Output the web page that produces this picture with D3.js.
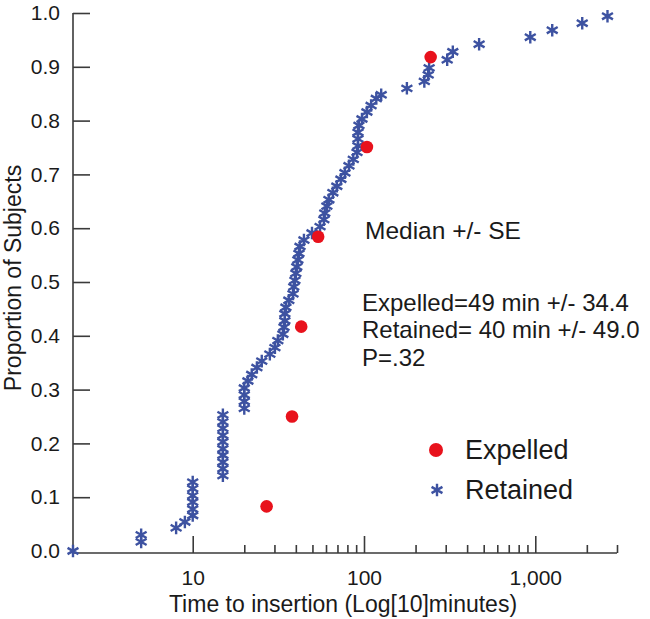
<!DOCTYPE html>
<html><head><meta charset="utf-8">
<script src="https://cdn.jsdelivr.net/npm/d3@7"></script>
<style>
html,body{margin:0;padding:0;background:#fff;}
text{font-family:"Liberation Sans",Arial,sans-serif;fill:#1a1a1a;}
</style></head>
<body>
<svg id="chart" width="650" height="619"></svg>
<script>
// ---- data ----
const retainedTime = [2, 5, 5, 8, 9,
  10, 10, 10, 10, 10, 10,
  15, 15, 15, 15, 15, 15, 15, 15, 15, 15,
  20, 20, 20, 20,
  21, 22.1, 23.7, 25.3, 28.2, 30.2, 31.4, 33.6, 34.1, 34.5, 34.5, 35, 36.4, 38.5, 38.9, 39.5, 40, 40.5, 41.1, 41.7, 42.3, 44.6, 49.7,
  55.4, 58.3, 59, 60.7, 62.4, 65.8, 69.4, 73.3, 77.4, 81.7, 86.6, 91, 92.2, 92.2, 92.2, 93.4, 97.3, 104, 110, 118, 126,
  178, 225, 237, 240, 306, 330, 470, 935, 1256, 1880, 2640];
const retainedProp = [0.000, 0.017, 0.030, 0.043, 0.054,
  0.066, 0.078, 0.091, 0.103, 0.116, 0.128,
  0.140, 0.153, 0.165, 0.178, 0.190, 0.203, 0.215, 0.228, 0.240, 0.253,
  0.265, 0.278, 0.290, 0.303,
  0.316, 0.328, 0.341, 0.353, 0.366, 0.378, 0.391, 0.403, 0.416, 0.428, 0.441, 0.453, 0.466, 0.478, 0.491, 0.503, 0.516, 0.528, 0.541, 0.553, 0.566, 0.578, 0.591,
  0.603, 0.616, 0.628, 0.641, 0.653, 0.666, 0.678, 0.691, 0.703, 0.716, 0.728, 0.741, 0.753, 0.766, 0.778, 0.791, 0.803, 0.816, 0.828, 0.841, 0.848,
  0.860, 0.873, 0.885, 0.898, 0.913, 0.928, 0.942, 0.955, 0.968, 0.981, 0.994];
const expelledTime = [27, 38, 43, 54, 104, 245];
const expelledProp = [0.083, 0.250, 0.417, 0.584, 0.751, 0.918];

const yTicks = [0, 0.1, 0.2, 0.3, 0.4, 0.5, 0.6, 0.7, 0.8, 0.9, 1.0];
const xMajorTicks = [10, 100, 1000];
const xMinorTicks = [20, 30, 40, 50, 60, 70, 80, 90, 200, 300, 400, 500, 600, 700, 800, 900, 2000, 3000];

const annotationLines = ["Expelled=49 min +/- 34.4", "Retained= 40 min +/- 49.0", "P=.32"];
const legendLabels = ["Expelled", "Retained"];

// ---- drawing ----
const svg = d3.select("#chart");
const axisColor = "#3a3a3a";
const blue = "#3d52a1";
const red = "#e8121c";
const FONT = "Liberation Sans, Arial, sans-serif";

const x = d3.scaleLog().domain([2, 3000]).range([73, 617]);
const y = d3.scaleLinear().domain([0, 1]).range([551, 13]);
const xAxisY = 553;

function asterisk(r) {
  let p = "";
  for (let i = 0; i < 3; i++) {
    const a = Math.PI / 2 + i * Math.PI / 3;
    const dx = r * Math.cos(a), dy = r * Math.sin(a);
    p += `M${-dx},${-dy}L${dx},${dy}`;
  }
  return p;
}

// x axis
const gx = svg.append("g").attr("transform", `translate(0,${xAxisY})`);
gx.call(d3.axisBottom(x).tickValues(xMajorTicks).tickSize(-17).tickPadding(17)
  .tickFormat(d3.format(",")));
const gxm = svg.append("g").attr("transform", `translate(0,${xAxisY})`);
gxm.call(d3.axisBottom(x).tickValues(xMinorTicks).tickSize(-8).tickFormat(""));
[gx, gxm].forEach(g => {
  g.select(".domain").remove();
  g.selectAll(".tick line").attr("stroke", axisColor).attr("stroke-width", 1.6);
});
gx.selectAll(".tick text").attr("font-size", 21).attr("font-family", FONT).attr("fill", "#1a1a1a");
svg.append("line").attr("x1", x(2)).attr("x2", x(3000)).attr("y1", xAxisY).attr("y2", xAxisY)
  .attr("stroke", axisColor).attr("stroke-width", 1.6);

// y axis
const gy = svg.append("g").attr("transform", `translate(${x(2)},0)`);
gy.call(d3.axisLeft(y).tickValues(yTicks).tickSize(-17).tickPadding(13).tickFormat(d3.format(".1f")));
gy.select(".domain").remove();
gy.selectAll(".tick line").attr("stroke", axisColor).attr("stroke-width", 1.6)
  .attr("display", d => d === 0 ? "none" : null);
gy.selectAll(".tick text").attr("font-size", 21).attr("font-family", FONT).attr("fill", "#1a1a1a");
svg.append("line").attr("x1", x(2)).attr("x2", x(2)).attr("y1", y(1)).attr("y2", xAxisY)
  .attr("stroke", axisColor).attr("stroke-width", 1.6);

// axis titles
svg.append("text").attr("x", 343).attr("y", 612).attr("text-anchor", "middle")
  .attr("font-size", 23).text("Time to insertion (Log[10]minutes)");
svg.append("text").attr("transform", "translate(21,278) rotate(-90)").attr("text-anchor", "middle")
  .attr("font-size", 23).text("Proportion of Subjects");

// retained asterisks
const retained = retainedTime.map((t, i) => ({t, p: retainedProp[i]}));
svg.append("g").selectAll("path").data(retained).join("path")
  .attr("transform", d => `translate(${x(d.t)},${y(d.p)})`)
  .attr("d", asterisk(6.3))
  .attr("stroke", blue).attr("stroke-width", 2.4).attr("fill", "none");

// expelled dots
const expelled = expelledTime.map((t, i) => ({t, p: expelledProp[i]}));
svg.append("g").selectAll("circle").data(expelled).join("circle")
  .attr("cx", d => x(d.t)).attr("cy", d => y(d.p)).attr("r", 6.3)
  .attr("fill", red);

// annotations
svg.append("text").attr("x", 365).attr("y", 238.5).attr("font-size", 24.5).text("Median +/- SE");
svg.append("g").selectAll("text").data(annotationLines).join("text")
  .attr("x", 362).attr("y", (d, i) => 310.5 + i * 27.5).attr("font-size", 24).text(d => d);

// legend
svg.append("circle").attr("cx", 436).attr("cy", 450).attr("r", 7).attr("fill", red);
svg.append("path").attr("transform", "translate(437,490)").attr("d", asterisk(6.3))
  .attr("stroke", blue).attr("stroke-width", 2.4).attr("fill", "none");
svg.append("g").selectAll("text").data(legendLabels).join("text")
  .attr("x", 465).attr("y", (d, i) => 459 + i * 40).attr("font-size", 27).text(d => d);
</script>
</body></html>
